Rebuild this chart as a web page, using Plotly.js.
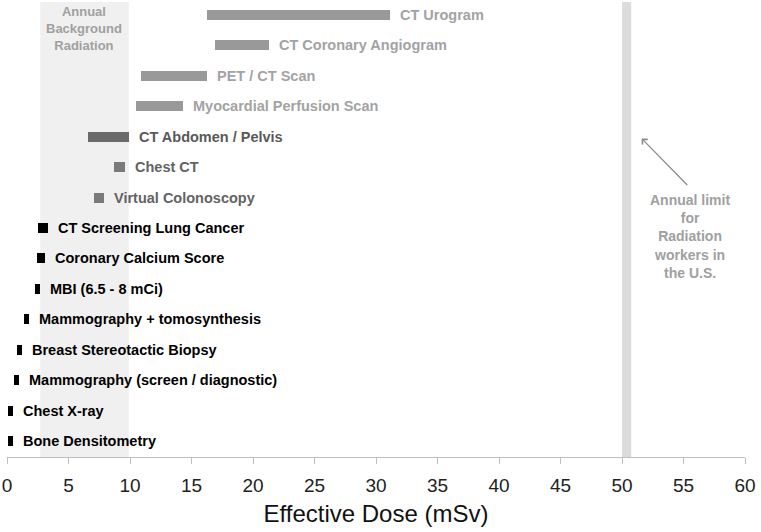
<!DOCTYPE html>
<html>
<head>
<meta charset="utf-8">
<script src="https://cdn.plot.ly/plotly-3.0.1.min.js"></script>
<style>html,body{margin:0;padding:0;background:#fff;}#chart{width:761px;height:532px;}</style>
</head>
<body>
<div id="chart"></div>
<script>
// Exams, top to bottom
const exams = [
  "CT Urogram",
  "CT Coronary Angiogram",
  "PET / CT Scan",
  "Myocardial Perfusion Scan",
  "CT Abdomen / Pelvis",
  "Chest CT",
  "Virtual Colonoscopy",
  "CT Screening Lung Cancer",
  "Coronary Calcium Score",
  "MBI (6.5 - 8 mCi)",
  "Mammography + tomosynthesis",
  "Breast Stereotactic Biopsy",
  "Mammography (screen / diagnostic)",
  "Chest X-ray",
  "Bone Densitometry"
];
// Effective dose range (mSv): low and high
const doseLow  = [16.3, 16.9, 10.9, 10.5, 6.6, 8.7, 7.1, 2.5, 2.4, 2.3, 1.4, 0.8, 0.6, 0.05, 0.05];
const doseHigh = [31.1, 21.3, 16.3, 14.3, 9.9, 9.6, 7.9, 3.3, 3.1, 2.7, 1.8, 1.2, 1.0, 0.45, 0.45];
// Group of each exam (drives shading)
const group = ["light","light","light","light","dark","mid","mid","black","black","black","black","black","black","black","black"];

const backgroundBand = [2.7, 9.9];   // annual background radiation (mSv)
const workerLimit = [50, 50.75];     // annual limit for radiation workers (mSv)
const xTicks = [0,5,10,15,20,25,30,35,40,45,50,55,60];

const barColor = {light:"#999999", dark:"#6a6a6a", mid:"#7a7a7a", black:"#000000"};
const textColor = {light:"#a3a3a3", dark:"#595959", mid:"#636363", black:"#000000"};

const FONT = "Liberation Sans, Arial, sans-serif";

const trace = {
  type: "bar",
  orientation: "h",
  y: exams,
  base: doseLow,
  x: doseHigh.map((h, i) => h - doseLow[i]),
  width: 0.33,
  marker: {color: group.map(g => barColor[g]), line: {width: 0}},
  hoverinfo: "skip",
  showlegend: false
};

const annotations = exams.map((name, i) => ({
  x: doseHigh[i], y: name, xref: "x", yref: "y",
  text: name, showarrow: false, xanchor: "left", yanchor: "middle", xshift: 8,
  font: {family: FONT, size: 14.5, weight: "bold", color: textColor[group[i]]}
}));

annotations.push({
  x: (backgroundBand[0] + backgroundBand[1]) / 2, y: 0.941, xref: "x", yref: "paper",
  text: "Annual<br>Background<br>Radiation", showarrow: false, xanchor: "center", yanchor: "middle",
  font: {family: FONT, size: 13, weight: "bold", color: "#a0a0a0"}
});
annotations.push({
  x: 55.5, y: 0.484, xref: "x", yref: "paper",
  text: "Annual limit<br>for<br>Radiation<br>workers in<br>the U.S.", showarrow: false,
  xanchor: "center", yanchor: "middle",
  font: {family: FONT, size: 14, weight: "bold", color: "#a0a0a0"}
});
annotations.push({
  x: 51.6, y: 0.70, xref: "x", yref: "paper", text: "",
  showarrow: true, arrowhead: 4, arrowsize: 1.1, arrowwidth: 1.3, arrowcolor: "#8c8c8c",
  ax: 47, ay: 48, standoff: 0
});

const layout = {
  width: 761, height: 532,
  margin: {l: 7, r: 16, t: 2, b: 75},
  paper_bgcolor: "#ffffff", plot_bgcolor: "#ffffff",
  font: {family: FONT},
  bargap: 0,
  xaxis: {
    range: [0, 60], tickvals: xTicks, ticktext: xTicks.map(String),
    showgrid: false, zeroline: false,
    showline: true, linecolor: "#bfbfbf", linewidth: 1,
    ticks: "outside", ticklen: 6, tickcolor: "#bfbfbf", tickwidth: 1,
    ticklabelstandoff: 5,
    tickfont: {family: FONT, size: 19, color: "#222222"},
    title: {text: "Effective Dose (mSv)", font: {family: FONT, size: 24, color: "#111111"}, standoff: 10}
  },
  yaxis: {
    type: "category", categoryorder: "array", categoryarray: exams,
    range: [14.526, -0.427],
    showgrid: false, zeroline: false, showline: false, showticklabels: false, ticks: ""
  },
  shapes: [
    {type: "rect", xref: "x", yref: "paper", x0: backgroundBand[0], x1: backgroundBand[1], y0: 0, y1: 1,
     fillcolor: "#f0f0f0", line: {width: 0}, layer: "below"},
    {type: "rect", xref: "x", yref: "paper", x0: workerLimit[0], x1: workerLimit[1], y0: 0, y1: 1,
     fillcolor: "#dcdcdc", line: {width: 0}, layer: "below"}
  ],
  annotations: annotations,
  showlegend: false
};

Plotly.newPlot("chart", [trace], layout, {displayModeBar: false, staticPlot: true});
</script>
</body>
</html>
